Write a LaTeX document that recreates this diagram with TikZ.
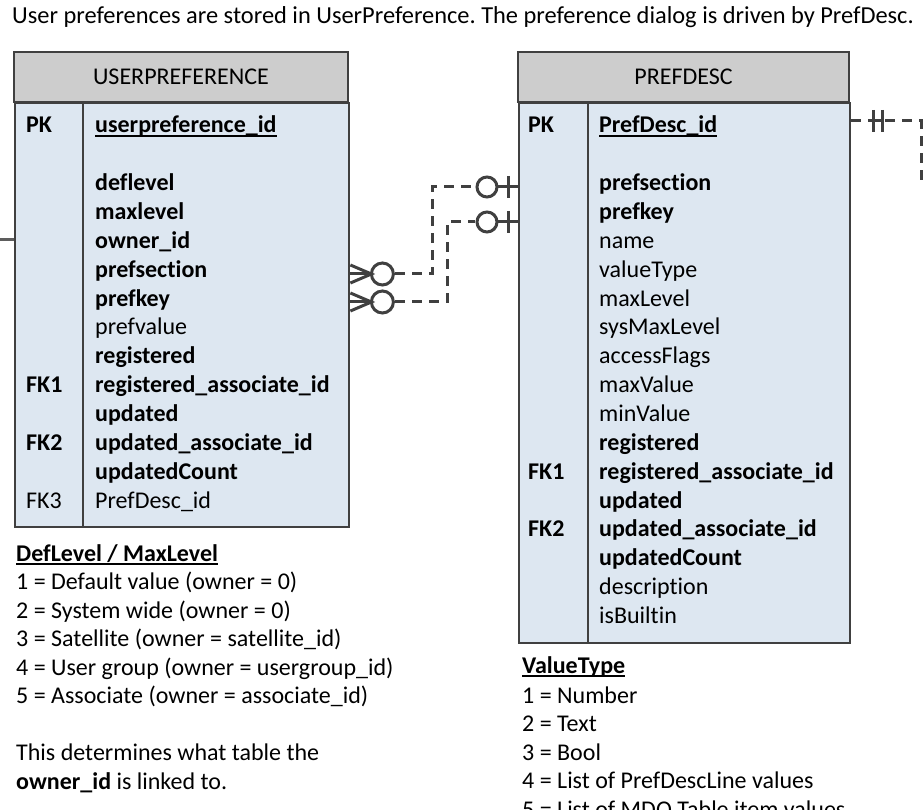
\documentclass[tikz,border=0pt]{standalone}
\usepackage{fontspec}
\setmainfont[Ligatures=NoCommon]{Carlito}
\usetikzlibrary{calc}
\frenchspacing

\definecolor{hdrgray}{RGB}{205,205,205}
\definecolor{bodyblue}{RGB}{221,231,241}
\definecolor{edge}{RGB}{64,64,64}

\newcommand\fs{\fontsize{24}{29}\selectfont}
% underline that sits just under the baseline
\newcommand\undl[1]{\setbox0\hbox{#1}\rlap{\vrule height -2.3pt depth 3.8pt width \wd0}\box0}

\tikzset{
  txt/.style={anchor=base west, inner sep=0pt, font=\fs},
  strong/.style={font=\fs\bfseries},
  hdr/.style={draw=edge, line width=2.4pt, fill=hdrgray, inner sep=0pt, font=\fs},
  tbody/.style={draw=edge, line width=2.4pt, fill=bodyblue, inner sep=0pt, anchor=north west},
  rule/.style={draw=edge, line width=2pt},
  er/.style={draw=edge, line width=3pt},
  erdash/.style={er, dash pattern=on 10pt off 7pt},
}

\begin{document}
\begin{tikzpicture}[x=1pt,y=-1pt]
\clip (0,0) rectangle (924,810);

% caption
\node[txt, font=\fontsize{24.4}{29}\selectfont] (caption) at (12,24) {User preferences are stored in UserPreference. The preference dialog is driven by PrefDesc.};

% ---------- UserPreference table ----------
\node[tbody, minimum width=334pt, minimum height=424pt] (upbody) at (14,102) {};
\node[hdr, minimum width=334pt, minimum height=50pt] (uphead) at (181,77) {USERPREFERENCE};
\draw[rule] (83,102) -- (83,526);

\foreach \k/\i/\s in {PK/0/strong, FK1/9/strong, FK2/11/strong, FK3/13/}
  \node[txt,\s] (uk\i) at (26,{133+\i*28.85}) {\k};
\foreach \t/\i/\s in {
  \undl{userpreference\_id}/0/strong,
  deflevel/2/strong, maxlevel/3/strong, owner\_id/4/strong,
  prefsection/5/strong, prefkey/6/strong, prefvalue/7/,
  registered/8/strong, registered\_associate\_id/9/strong,
  updated/10/strong, updated\_associate\_id/11/strong,
  updatedCount/12/strong, PrefDesc\_id/13/}
  \node[txt,\s] (uf\i) at (95,{133+\i*28.85}) {\t};

% ---------- PrefDesc table ----------
\node[tbody, minimum width=331pt, minimum height=540pt] (pdbody) at (518,102) {};
\node[hdr, minimum width=331pt, minimum height=50pt] (pdhead) at (683.5,77) {PREFDESC};
\draw[rule] (588,102) -- (588,642);

\foreach \k/\i in {PK/0, FK1/12, FK2/14}
  \node[txt,strong] (pk\i) at (528,{133+\i*28.85}) {\k};
\foreach \t/\i/\s in {
  \undl{PrefDesc\_id}/0/strong,
  prefsection/2/strong, prefkey/3/strong, name/4/, valueType/5/,
  maxLevel/6/, sysMaxLevel/7/, accessFlags/8/, maxValue/9/, minValue/10/,
  registered/11/strong, registered\_associate\_id/12/strong,
  updated/13/strong, updated\_associate\_id/14/strong,
  updatedCount/15/strong, description/16/, isBuiltin/17/}
  \node[txt,\s] (pf\i) at (599,{133+\i*28.85}) {\t};

% ---------- notes ----------
\node[txt,strong] (n0) at (16,561) {\undl{DefLevel / MaxLevel}};
\node[txt] (n1) at (16,589.5) {1 = Default value (owner = 0)};
\node[txt] (n2) at (16,618) {2 = System wide (owner = 0)};
\node[txt] (n3) at (16,646.5) {3 = Satellite (owner = satellite\_id)};
\node[txt] (n4) at (16,675) {4 = User group (owner = usergroup\_id)};
\node[txt] (n5) at (16,703.5) {5 = Associate (owner = associate\_id)};
\node[txt] (n6) at (16,760) {This determines what table the};
\node[txt] (n7) at (16,789) {\textbf{owner\_id} is linked to.};

\node[txt,strong] (v0) at (522,673) {\undl{ValueType}};
\node[txt] (v1) at (522,703) {1 = Number};
\node[txt] (v2) at (522,731.5) {2 = Text};
\node[txt] (v3) at (522,760) {3 = Bool};
\node[txt] (v4) at (522,788.5) {4 = List of PrefDescLine values};
\node[txt] (v5) at (522,817) {5 = List of MDO Table item values};

% ---------- relationship ends ----------
\coordinate (m1) at (upbody.east |- 0,274);
\coordinate (m2) at (upbody.east |- 0,302);
\coordinate (o1) at (pdbody.west |- 0,187);
\coordinate (o2) at (pdbody.west |- 0,222);
\coordinate (own) at (upbody.west |- 0,240);
\coordinate (ownfree) at (0,240);
\coordinate (pdk) at (pdbody.east |- 0,121);
\coordinate (pdkfree) at (921,185);

% many side: crow's foot with ring
\foreach \m in {m1,m2} {
  \draw[er] ($(\m)+(0,-9)$) -- ($(\m)+(21,0)$) -- ($(\m)+(0,9)$);
  \draw[er] (\m) -- ($(\m)+(21,0)$);
  \draw[er] ($(\m)+(32,0)$) circle[radius=11pt];
}
% one side: ring and bar
\foreach \o in {o1,o2} {
  \draw[er] ($(\o)+(-31,0)$) circle[radius=10pt];
  \draw[er] ($(\o)+(-21,0)$) -- (\o);
  \draw[er] ($(\o)+(-10,-11)$) -- ($(\o)+(-10,11)$);
}
% dashed links
\draw[erdash] ($(m1)+(45,0)$) -- (432,274) -- (432,187) -- ($(o1)+(-43,0)$);
\draw[erdash] ($(m2)+(45,0)$) -- (447,302) -- (447,222) -- ($(o2)+(-43,0)$);

% link leaving PrefDesc on the right
\draw[erdash] (pdk) -- (921,121) -- (pdkfree);
\draw[er] ($(pdk)+(22,-11)$) -- ($(pdk)+(22,11)$);
\draw[er] ($(pdk)+(31,-11)$) -- ($(pdk)+(31,11)$);
\draw[er] ($(pdk)+(22,0)$) -- ($(pdk)+(31,0)$);

% link leaving UserPreference on the left
\draw[er, draw=edge!85] (ownfree) -- (own);
\end{tikzpicture}
\end{document}
